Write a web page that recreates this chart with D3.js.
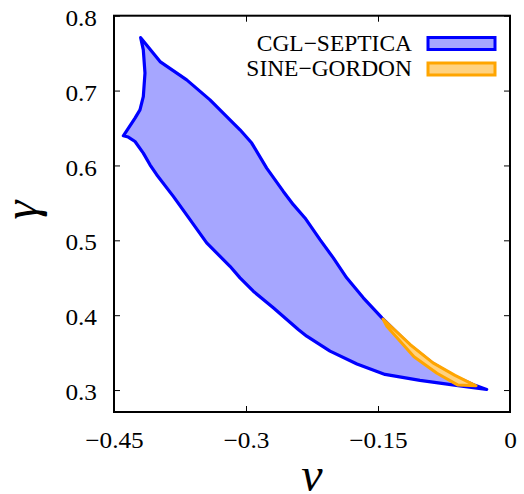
<!DOCTYPE html>
<html>
<head>
<meta charset="utf-8">
<script src="https://cdn.jsdelivr.net/npm/d3@7"></script>
<style>
    #chart text { font-family: "Liberation Serif" !important; }
</style>
</head>
<body style="margin:0">
<svg id="chart" width="524" height="494" font-family="Liberation Serif"></svg>
<script>

// CGL-SEPTICA region outline (nu, gamma), clockwise from top tip
const cglNu = [
    -0.4197, -0.3977, -0.3674, -0.3409, -0.3219, -0.3068, -0.2935, -0.2765, -0.2576, -0.2462,
    -0.2330, -0.2159, -0.2008, -0.1856, -0.1667, -0.1455, -0.1136, -0.0875, -0.0648, -0.0398,
    -0.0265, -0.0568, -0.1023, -0.1420, -0.1739, -0.2045, -0.2310, -0.2406, -0.2690,
    -0.2917, -0.3068, -0.3182, -0.3447, -0.3636, -0.3826, -0.4015, -0.4091, -0.4167, -0.4261,
    -0.4338, -0.4394, -0.4261, -0.4205, -0.4167, -0.4148, -0.4167
];
const cglGamma = [
    0.7707, 0.7387, 0.7143, 0.6876, 0.6653, 0.6476, 0.6299, 0.5965, 0.5653, 0.5476,
    0.5299, 0.5009, 0.4765, 0.4499, 0.4232, 0.3963, 0.3596, 0.3356, 0.3196, 0.3063,
    0.3009, 0.3056, 0.3129, 0.3209, 0.3349, 0.3520, 0.3720, 0.3809, 0.4099,
    0.4320, 0.4499, 0.4653, 0.4965, 0.5276, 0.5587, 0.5876, 0.6009, 0.6165, 0.6320,
    0.6379, 0.6396, 0.6632, 0.6743, 0.6920, 0.7232, 0.7543
];

// SINE-GORDON region outline
const sgNu = [-0.1443, -0.1136, -0.0875, -0.0625, -0.0386, -0.0591, -0.0830, -0.1091, -0.1398];
const sgGamma = [0.3949, 0.3609, 0.3363, 0.3196, 0.3056, 0.3066, 0.3224, 0.3444, 0.3850];

// Axes
const xTicks = [-0.45, -0.3, -0.15, 0];
const xTickLabels = ["\u22120.45", "\u22120.3", "\u22120.15", "0"];
const yTicks = [0.3, 0.4, 0.5, 0.6, 0.7, 0.8];
const yTickLabels = ["0.3", "0.4", "0.5", "0.6", "0.7", "0.8"];
const xDomain = [-0.45, 0];
const yDomain = [0.2707, 0.8];

// Legend
const seriesNames = ["CGL\u2212SEPTICA", "SINE\u2212GORDON"];
const seriesStroke = ["#0000ff", "#ffa500"];
const seriesFill = ["#a6a6ff", "#ffd280"];

const margin = {left: 114, right: 14, top: 15.7, bottom: 82};
const chartWidth = 524, chartHeight = 494;
const plotWidth = chartWidth - margin.left - margin.right;
const plotHeight = chartHeight - margin.top - margin.bottom;
const tickStretch = 1.1, legendStretch = 1.02;

const svg = d3.select("#chart");
const chart = svg.append("g")
    .attr("transform", `translate(${margin.left}, ${margin.top})`);

// Scales
const x = d3.scaleLinear().domain(xDomain).range([0, plotWidth]);
const y = d3.scaleLinear().domain(yDomain).range([plotHeight, 0]);

// Regions
const outline = d3.line()
    .x((d) => x(d[0]))
    .y((d) => y(d[1]))
    .curve(d3.curveLinearClosed);

chart.append("path")
    .datum(d3.zip(cglNu, cglGamma))
    .attr("d", outline)
    .style("fill", seriesFill[0])
    .style("stroke", seriesStroke[0])
    .style("stroke-width", 3.2)
    .style("stroke-linejoin", "round");

chart.append("path")
    .datum(d3.zip(sgNu, sgGamma))
    .attr("d", outline)
    .style("fill", seriesFill[1])
    .style("stroke", seriesStroke[1])
    .style("stroke-width", 3)
    .style("stroke-linejoin", "round");

// Axes (ticks point inward, mirrored on top/right)
const styleAxis = (g) => {
    g.attr("font-family", "Liberation Serif").attr("font-size", 23);
    g.select(".domain").remove();
    g.selectAll("line").style("stroke", "#000").style("stroke-width", 1);
    // gnuplot's serif labels run a little wider than Liberation Serif
    g.selectAll("text")
        .style("fill", "#000")
        .attr("x", function() { return (+d3.select(this).attr("x") || 0) / tickStretch; })
        .attr("transform", `scale(${tickStretch}, 1)`);
};
const ticksOnly = (g) => {
    g.select(".domain").remove();
    g.selectAll("text").remove();
    g.selectAll("line").style("stroke", "#000").style("stroke-width", 1);
};

chart.append("g")
    .attr("transform", `translate(0, ${plotHeight})`)
    .call(d3.axisBottom(x).tickValues(xTicks).tickSize(-6).tickPadding(20)
        .tickFormat((d, i) => xTickLabels[i]))
    .call(styleAxis);
chart.append("g")
    .call(d3.axisTop(x).tickValues(xTicks).tickSize(-6))
    .call(ticksOnly);
chart.append("g")
    .call(d3.axisLeft(y).tickValues(yTicks).tickSize(-6).tickPadding(17)
        .tickFormat((d, i) => yTickLabels[i]))
    .call(styleAxis)
    .selectAll("text")
    .attr("dy", "0.42em");
chart.append("g")
    .attr("transform", `translate(${plotWidth}, 0)`)
    .call(d3.axisRight(y).tickValues(yTicks).tickSize(-6))
    .call(ticksOnly);

// Frame
chart.append("rect")
    .attr("width", plotWidth)
    .attr("height", plotHeight)
    .style("fill", "none")
    .style("stroke", "#000")
    .style("stroke-width", 2);

// Axis titles
svg.append("text")
    .attr("transform", `translate(${margin.left + plotWidth / 2}, 491)`)
    .attr("text-anchor", "middle")
    .attr("font-style", "italic")
    .attr("font-size", 48)
    .text("\u03bd");
svg.append("text")
    .attr("transform", `translate(37, 210) rotate(-90)`)
    .attr("text-anchor", "middle")
    .attr("font-style", "italic")
    .attr("font-size", 48)
    .text("\u03b3");

// Legend
const legend = svg.selectAll(".legend")
    .data(seriesNames)
    .enter()
    .append("g")
    .attr("transform", (d, i) => `translate(0, ${i * 25.5})`);
legend.append("text")
    .attr("x", 412 / legendStretch)
    .attr("y", 51)
    .attr("transform", `scale(${legendStretch}, 1)`)
    .attr("text-anchor", "end")
    .attr("font-size", 23)
    .text((d) => d);
legend.append("rect")
    .attr("x", 428)
    .attr("y", 37.5)
    .attr("width", 67)
    .attr("height", 12)
    .style("fill", (d, i) => seriesFill[i])
    .style("stroke", (d, i) => seriesStroke[i])
    .style("stroke-width", 3);

</script>
</body>
</html>
